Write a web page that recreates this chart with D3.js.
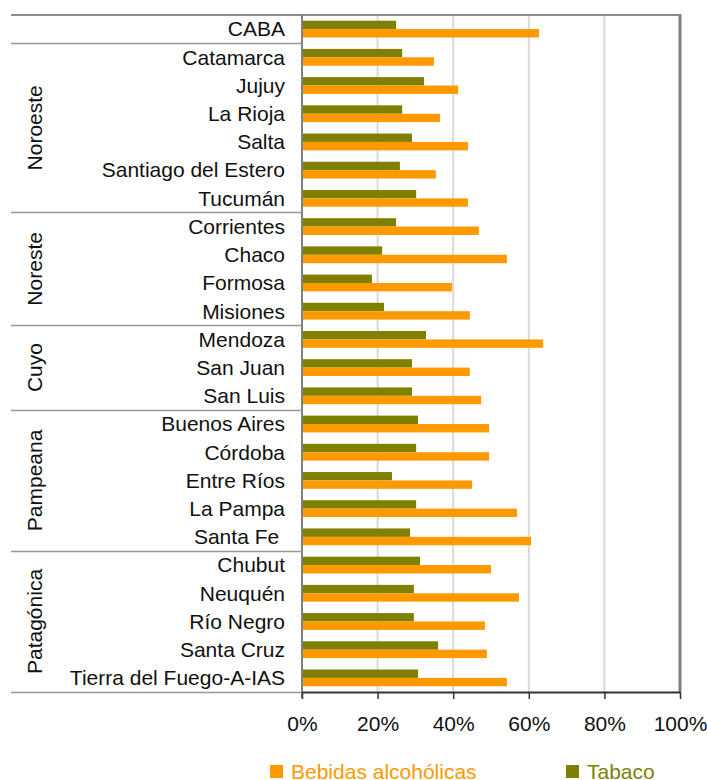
<!DOCTYPE html>
<html><head><meta charset="utf-8">
<script src="https://cdn.jsdelivr.net/npm/d3@7"></script>
<style>body{margin:0;background:#fff}svg{display:block}text{font-family:"Liberation Sans",Arial,sans-serif}</style>
</head><body>
<svg id="c" width="707" height="780"></svg>
<script>
const provinces = ["CABA","Catamarca","Jujuy","La Rioja","Salta","Santiago del Estero","Tucumán","Corrientes","Chaco","Formosa","Misiones","Mendoza","San Juan","San Luis","Buenos Aires","Córdoba","Entre Ríos","La Pampa","Santa Fe ","Chubut","Neuquén","Río Negro","Santa Cruz","Tierra del Fuego-A-IAS"];
const tabaco = [24.9,26.5,32.3,26.5,29.1,25.9,30.2,24.9,21.2,18.5,21.7,32.8,29.1,29.1,30.7,30.2,23.8,30.2,28.6,31.2,29.6,29.6,36.0,30.7];
const bebidas = [62.7,34.9,41.3,36.5,43.9,35.4,43.9,46.8,54.2,39.7,44.4,63.8,44.4,47.4,49.5,49.5,45.0,56.9,60.6,50.0,57.4,48.4,48.9,54.2];
const groupNames = ["","Noroeste","Noreste","Cuyo","Pampeana","Patagónica"];
const groupSizes = [1,6,4,3,5,5];
const xTicks = [0,20,40,60,80,100];
const seriesNames = ["Bebidas alcohólicas","Tabaco"];
const colors = {"Bebidas alcohólicas":"#ff9900","Tabaco":"#808000"};

const FS = 21;
const svg = d3.select("#c");
const L=302,R=680,T=15,B=692;
const x = d3.scaleLinear().domain([0,100]).range([L,R]);
const y = d3.scaleBand().domain(provinces).range([T,B]);
const inner = d3.scaleBand().domain(["Tabaco","Bebidas alcohólicas"]).range([0,y.bandwidth()]).paddingOuter(0.68);

// gridlines
svg.append("g").selectAll("line").data(xTicks.filter(d=>d>0&&d<100)).join("line")
  .attr("x1",d=>x(d)).attr("x2",d=>x(d)).attr("y1",T).attr("y2",B)
  .attr("stroke","#d9d9d9").attr("stroke-width",2);

// bars
const rows = provinces.map((p,i)=>({p, tab:tabaco[i], beb:bebidas[i]}));
const g = svg.append("g");
rows.forEach(r=>{
  g.append("rect").attr("x",x(0)).attr("y",y(r.p)+inner("Tabaco")).attr("width",x(r.tab)-x(0)).attr("height",inner.bandwidth()).attr("fill",colors["Tabaco"]);
  g.append("rect").attr("x",x(0)).attr("y",y(r.p)+inner("Bebidas alcohólicas")).attr("width",x(r.beb)-x(0)).attr("height",inner.bandwidth()).attr("fill",colors["Bebidas alcohólicas"]);
});

// frame
svg.append("line").attr("x1",11).attr("x2",R).attr("y1",T).attr("y2",T).attr("stroke","#8c8c8c").attr("stroke-width",2);
svg.append("line").attr("x1",R).attr("x2",R).attr("y1",T-1).attr("y2",B).attr("stroke","#808080").attr("stroke-width",3);
svg.append("line").attr("x1",L).attr("x2",L).attr("y1",T).attr("y2",B+6).attr("stroke","#808080").attr("stroke-width",2);

// group separators
let idx=0;
groupSizes.forEach((n,gi)=>{
  const y0 = y(provinces[idx]);
  const y1 = y(provinces[idx+n-1])+y.bandwidth();
  svg.append("line").attr("x1",11).attr("x2",L).attr("y1",Math.round(y1)+0.5).attr("y2",Math.round(y1)+0.5).attr("stroke","#999").attr("stroke-width",1.3);
  if(groupNames[gi]){
    const cy=(y0+y1)/2;
    svg.append("text").attr("transform",`translate(41.5,${cy}) rotate(-90)`).attr("text-anchor","middle")
      .attr("font-size",FS).attr("fill","#111").text(groupNames[gi]);
  }
  idx+=n;
});

// category labels
svg.append("g").selectAll("text").data(provinces).join("text")
  .attr("x",285).attr("y",d=>y(d)+y.bandwidth()/2).attr("dy","0.35em")
  .attr("text-anchor","end").attr("font-size",FS).attr("fill","#111")
  .style("white-space","pre").text(d=>d);

// x axis
const ax = svg.append("g").attr("transform",`translate(0,${B})`)
  .call(d3.axisBottom(x).tickValues(xTicks).tickFormat(d=>d+"%").tickSize(7).tickSizeOuter(0));
ax.select(".domain").attr("stroke","#333").attr("stroke-width",2);
ax.selectAll(".tick line").attr("stroke","#333").attr("stroke-width",1.5);
ax.selectAll(".tick text").attr("font-size",FS).attr("fill","#111").attr("y",32).attr("dy","0.35em")
  .attr("font-family","'Liberation Sans',Arial,sans-serif");

// legend
const legX=[270,566];
seriesNames.forEach((s,i)=>{
  svg.append("rect").attr("x",legX[i]).attr("y",765).attr("width",13).attr("height",13).attr("fill",colors[s]);
  svg.append("text").attr("x",legX[i]+21).attr("y",772).attr("dy","0.35em").attr("font-size",FS).attr("fill",colors[s]).text(s);
});
</script>
</body></html>
